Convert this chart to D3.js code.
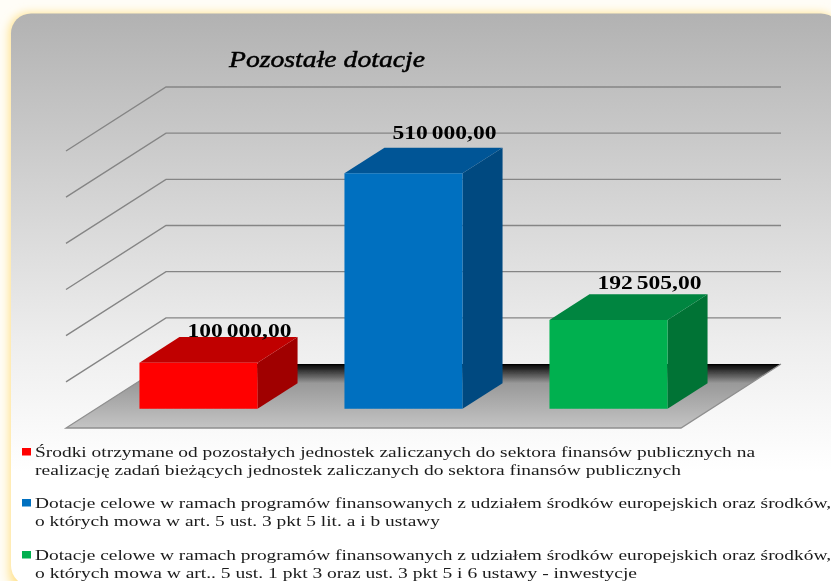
<!DOCTYPE html>
<html>
<head>
<meta charset="utf-8">
<script src="https://cdn.jsdelivr.net/npm/d3@7"></script>
<style>
  html, body { margin: 0; padding: 0; background: #fffdf7; overflow: hidden; }
  text { font-family: "Liberation Serif", serif; fill: #000; }
</style>
</head>
<body>
<div id="chart"></div>
<script>
const categories = ['pozostale', 'europejskie', 'inwestycje'];
const values = [100000, 510000, 192505];
const valueLabels = ['100 000,00', '510 000,00', '192 505,00'];
const gridTicks = [100000, 200000, 300000, 400000, 500000, 600000];
const colors = ['#ff0000', '#0070c0', '#00b050'];
const topColors = ['#c00000', '#005596', '#008540'];
const sideColors = ['#a00000', '#004a80', '#007335'];
const legendLines = [
  ['Środki otrzymane od pozostałych jednostek zaliczanych do sektora finansów publicznych na',
   'realizację zadań bieżących jednostek zaliczanych do sektora finansów publicznych'],
  ['Dotacje celowe w ramach programów finansowanych z udziałem środków europejskich oraz środków,',
   'o których mowa w art. 5 ust. 3 pkt 5 lit. a i b ustawy'],
  ['Dotacje celowe w ramach programów finansowanych z udziałem środków europejskich oraz środków,',
   'o których mowa w art.. 5 ust. 1 pkt 3 oraz ust. 3 pkt 5 i 6 ustawy - inwestycje']
];
// measured widths of the legend lines, the source picture is stretched
const legendWidths = [[720, 646], [796, 405], [796, 602]];
const legendTops = [457, 508, 560];
const labelLift = [26, 34, 31];

const width = 831;
const height = 581;

const svg = d3.select('#chart')
  .append('svg')
  .attr('width', width)
  .attr('height', height)
  .style('display', 'block');

const defs = svg.append('defs');

const bg = defs.append('linearGradient')
  .attr('id', 'panelFill')
  .attr('x1', 0).attr('y1', 0).attr('x2', 0).attr('y2', 1);
bg.append('stop').attr('offset', '0%').attr('stop-color', '#b2b2b2');
bg.append('stop').attr('offset', '36%').attr('stop-color', '#d8d8d8');
bg.append('stop').attr('offset', '58%').attr('stop-color', '#eeeeee');
bg.append('stop').attr('offset', '80%').attr('stop-color', '#ffffff');

const floorFill = defs.append('linearGradient')
  .attr('id', 'floorFill')
  .attr('x1', 0).attr('y1', 0).attr('x2', 0).attr('y2', 1);
floorFill.append('stop').attr('offset', '0%').attr('stop-color', '#000000');
floorFill.append('stop').attr('offset', '30%').attr('stop-color', '#999999');
floorFill.append('stop').attr('offset', '100%').attr('stop-color', '#c4c4c4');

defs.append('filter').attr('id', 'glow')
  .attr('x', '-5%').attr('y', '-5%').attr('width', '110%').attr('height', '110%')
  .append('feGaussianBlur').attr('stdDeviation', 5);

defs.append('filter').attr('id', 'soft')
  .append('feGaussianBlur').attr('stdDeviation', 0.4);

// panel with the yellow glow behind it
svg.append('rect')
  .attr('x', 9).attr('y', 13)
  .attr('width', 830).attr('height', 580)
  .attr('rx', 20)
  .attr('fill', '#ffe28f')
  .attr('filter', 'url(#glow)');

svg.append('rect')
  .attr('x', 11).attr('y', 13.5)
  .attr('width', 830).attr('height', 572)
  .attr('rx', 20)
  .attr('fill', 'url(#panelFill)');

// front plane scales, depth is added by project()
const x = d3.scaleBand()
  .domain(categories)
  .range([66, 681]);

const y = d3.scaleLinear()
  .domain([0, 600000])
  .range([428, 151]);

const depthX = 100;
const depthY = 64;
const barWidth = x.bandwidth() * 0.576;

function project(px, value, depth) {
  return [px + depthX * depth, y(value) - depthY * depth];
}

function poly(points) {
  return points.map(p => p.join(',')).join(' ');
}

const plot = svg.append('g').attr('filter', 'url(#soft)');

// floor
plot.append('polygon')
  .attr('points', poly([
    project(x.range()[0], 0, 0),
    project(x.range()[1], 0, 0),
    project(x.range()[1], 0, 1),
    project(x.range()[0], 0, 1)
  ]))
  .attr('fill', 'url(#floorFill)');

plot.append('polyline')
  .attr('points', poly([
    project(x.range()[0], 0, 1),
    project(x.range()[0], 0, 0),
    project(x.range()[1], 0, 0),
    project(x.range()[1], 0, 1)
  ]))
  .attr('fill', 'none')
  .attr('stroke', '#8f8f8f')
  .attr('stroke-width', 1.3);

// grid lines on side and back wall
plot.selectAll('.grid')
  .data(gridTicks)
  .enter()
  .append('polyline')
  .attr('class', 'grid')
  .attr('points', d => poly([
    project(x.range()[0], d, 0),
    project(x.range()[0], d, 1),
    project(x.range()[1], d, 1)
  ]))
  .attr('fill', 'none')
  .attr('stroke', '#858585')
  .attr('stroke-width', 1.4);

// bars
const bars = plot.selectAll('.bar')
  .data(categories)
  .enter()
  .append('g')
  .attr('class', 'bar');

const barLeft = d => x(d) + (x.bandwidth() - barWidth) / 2;
const valueOf = d => values[categories.indexOf(d)];

bars.append('polygon')
  .attr('points', d => poly([
    project(barLeft(d) + barWidth, 0, 0.3),
    project(barLeft(d) + barWidth, 0, 0.7),
    project(barLeft(d) + barWidth, valueOf(d), 0.7),
    project(barLeft(d) + barWidth, valueOf(d), 0.3)
  ]))
  .attr('fill', (d, i) => sideColors[i]);

bars.append('polygon')
  .attr('points', d => poly([
    project(barLeft(d), valueOf(d), 0.3),
    project(barLeft(d) + barWidth, valueOf(d), 0.3),
    project(barLeft(d) + barWidth, valueOf(d), 0.7),
    project(barLeft(d), valueOf(d), 0.7)
  ]))
  .attr('fill', (d, i) => topColors[i]);

bars.append('polygon')
  .attr('points', d => poly([
    project(barLeft(d), 0, 0.3),
    project(barLeft(d) + barWidth, 0, 0.3),
    project(barLeft(d) + barWidth, valueOf(d), 0.3),
    project(barLeft(d), valueOf(d), 0.3)
  ]))
  .attr('fill', (d, i) => colors[i]);

// value labels
plot.selectAll('.value')
  .data(categories)
  .enter()
  .append('text')
  .attr('class', 'value')
  .attr('x', d => project(barLeft(d) + barWidth / 2, 0, 0.7)[0] + 1)
  .attr('y', (d, i) => project(0, valueOf(d), 0.3)[1] - labelLift[i])
  .attr('text-anchor', 'middle')
  .attr('textLength', 104)
  .attr('lengthAdjust', 'spacingAndGlyphs')
  .style('font-size', '18.5px')
  .style('font-weight', 'bold')
  .style('word-spacing', '-1.5px')
  .text((d, i) => valueLabels[i]);

// title
plot.append('text')
  .attr('x', 229)
  .attr('y', 67)
  .attr('textLength', 196)
  .attr('lengthAdjust', 'spacingAndGlyphs')
  .style('font-size', '24px')
  .style('font-style', 'italic')
  .style('stroke', '#000')
  .style('stroke-width', 0.5)
  .text('Pozostałe dotacje');

// legend
const legend = plot.selectAll('.legend')
  .data(legendLines)
  .enter()
  .append('g')
  .attr('class', 'legend');

legend.append('rect')
  .attr('x', 22)
  .attr('y', (d, i) => legendTops[i] - 9)
  .attr('width', 9)
  .attr('height', 7.5)
  .attr('fill', (d, i) => colors[i]);

legend.each(function (lines, i) {
  d3.select(this).selectAll('text')
    .data(lines)
    .enter()
    .append('text')
    .attr('x', 35)
    .attr('y', (d, j) => legendTops[i] + j * 18)
    .attr('textLength', (d, j) => legendWidths[i][j])
    .attr('lengthAdjust', 'spacingAndGlyphs')
    .style('font-size', '15px')
    .style('fill', '#1a1a1a')
    .text(d => d);
});
</script>
</body>
</html>
